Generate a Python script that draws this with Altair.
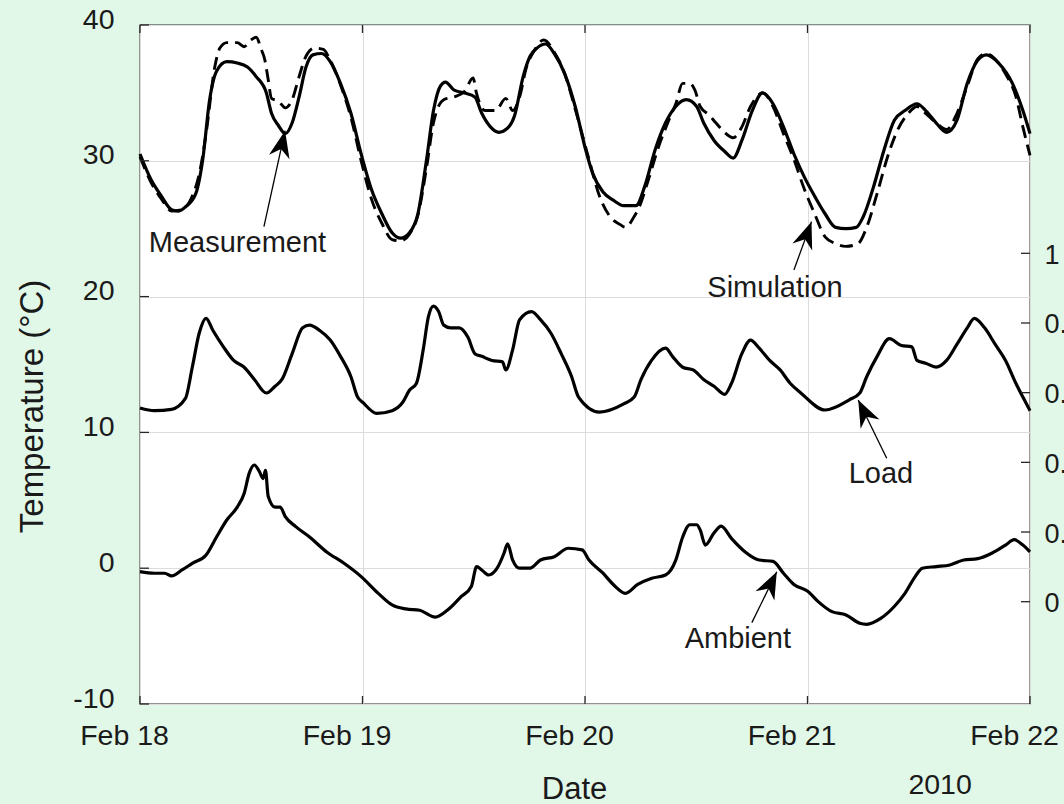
import math

import altair as alt
import pandas as pd

# ---------------------------------------------------------------------------
# Transformer temperatures, 18-22 Feb 2010.
# Time is given in days counted from Feb 18 00:00, temperatures in degC.
# ---------------------------------------------------------------------------
MEAS_T = [0.000, 0.050, 0.096, 0.142, 0.173, 0.204, 0.251, 0.282, 0.313, 0.344,
          0.390, 0.437, 0.483, 0.522, 0.568, 0.591, 0.622, 0.653, 0.684, 0.715,
          0.746, 0.777, 0.816, 0.855, 0.901, 0.948, 0.994, 1.040, 1.087, 1.133,
          1.172, 1.211, 1.249, 1.288, 1.319, 1.350, 1.373, 1.412, 1.458, 1.505,
          1.536, 1.575, 1.613, 1.652, 1.683, 1.722, 1.753, 1.784, 1.823, 1.862,
          1.909, 1.956, 2.003, 2.034, 2.081, 2.127, 2.174, 2.229, 2.268, 2.315,
          2.362, 2.408, 2.455, 2.502, 2.533, 2.580, 2.627, 2.666, 2.705, 2.752,
          2.798, 2.845, 2.892, 2.939, 2.986, 3.032, 3.079, 3.126, 3.173, 3.219,
          3.251, 3.297, 3.344, 3.391, 3.438, 3.492, 3.531, 3.578, 3.625, 3.672,
          3.718, 3.765, 3.804, 3.859, 3.921, 3.968, 4.000]
MEAS_V = [30.5, 28.6, 27.4, 26.4, 26.3, 26.6, 27.6, 30.1, 34.5, 36.6,
          37.3, 37.2, 36.9, 36.2, 35.0, 33.5, 32.6, 32.0, 32.8, 34.7,
          36.9, 37.8, 37.9, 37.3, 35.7, 33.5, 30.5, 27.9, 26.1, 24.7,
          24.3, 24.7, 26.1, 30.1, 33.7, 35.5, 35.8, 35.2, 35.0, 34.7,
          33.5, 32.5, 32.1, 32.4, 33.3, 36.2, 37.7, 38.3, 38.6, 37.9,
          36.4, 34.0, 30.8, 29.1, 27.7, 27.1, 26.7, 26.7, 28.1, 30.8,
          32.8, 34.0, 34.5, 34.0, 32.8, 31.5, 30.7, 30.2, 31.5, 33.7,
          35.0, 34.2, 32.5, 30.5, 28.8, 27.4, 26.1, 25.1, 25.0, 25.1,
          25.9, 28.1, 30.8, 33.0, 33.7, 34.2, 33.7, 32.8, 32.1, 33.0,
          35.7, 37.4, 37.8, 37.2, 35.7, 33.7, 32.0]

SIM_T = [0.000, 0.050, 0.096, 0.142, 0.189, 0.235, 0.266, 0.297, 0.336, 0.359,
         0.390, 0.437, 0.468, 0.499, 0.522, 0.545, 0.560, 0.576, 0.591, 0.622,
         0.653, 0.684, 0.715, 0.746, 0.785, 0.824, 0.855, 0.901, 0.948, 0.994,
         1.040, 1.087, 1.133, 1.172, 1.211, 1.249, 1.288, 1.319, 1.365, 1.412,
         1.458, 1.497, 1.512, 1.551, 1.598, 1.644, 1.675, 1.706, 1.737, 1.768,
         1.815, 1.862, 1.909, 1.956, 2.018, 2.065, 2.112, 2.159, 2.182, 2.221,
         2.244, 2.283, 2.330, 2.377, 2.408, 2.439, 2.471, 2.494, 2.518, 2.556,
         2.588, 2.627, 2.666, 2.705, 2.744, 2.798, 2.845, 2.892, 2.939, 2.986,
         3.032, 3.079, 3.126, 3.173, 3.227, 3.266, 3.313, 3.360, 3.406, 3.453,
         3.492, 3.531, 3.578, 3.625, 3.672, 3.718, 3.765, 3.804, 3.843, 3.890,
         3.937, 3.968, 4.000]
SIM_V = [30.3, 28.4, 27.2, 26.3, 26.4, 27.4, 29.0, 32.0, 36.9, 38.3,
         38.7, 38.7, 38.4, 38.9, 39.1, 38.2, 37.5, 36.0, 34.6, 34.4,
         33.9, 34.5, 36.2, 37.7, 38.3, 38.2, 37.4, 35.6, 33.2, 30.0,
         27.2, 25.4, 24.2, 24.1, 24.6, 26.0, 29.5, 32.8, 34.5, 34.7,
         35.1, 36.1, 35.0, 33.7, 33.7, 34.6, 33.7, 34.7, 36.9, 38.0,
         38.9, 38.0, 36.4, 33.8, 30.1, 27.4, 25.9, 25.3, 25.1, 25.9,
         26.6, 28.5, 31.0, 33.0, 34.2, 35.7, 35.7, 35.2, 34.0, 33.4,
         32.8, 32.1, 31.7, 32.5, 34.0, 35.0, 34.0, 32.0, 30.1, 27.9,
         26.1, 24.4, 23.9, 23.7, 23.9, 25.1, 27.6, 30.3, 32.3, 33.5,
         34.0, 33.5, 32.8, 32.3, 33.5, 35.5, 37.5, 37.9, 37.5, 36.4,
         34.7, 32.5, 30.4]

LOAD_T = [0.000, 0.065, 0.142, 0.204, 0.235, 0.266, 0.297, 0.328, 0.375, 0.421,
          0.468, 0.514, 0.568, 0.607, 0.638, 0.684, 0.731, 0.762, 0.808, 0.855,
          0.901, 0.948, 0.978, 1.002, 1.064, 1.133, 1.180, 1.211, 1.242, 1.273,
          1.296, 1.319, 1.342, 1.365, 1.396, 1.435, 1.474, 1.505, 1.536, 1.582,
          1.629, 1.644, 1.675, 1.706, 1.760, 1.800, 1.847, 1.893, 1.940, 1.971,
          2.065, 2.174, 2.221, 2.252, 2.299, 2.362, 2.393, 2.439, 2.486, 2.533,
          2.580, 2.627, 2.658, 2.705, 2.744, 2.783, 2.830, 2.877, 2.923, 2.970,
          3.079, 3.188, 3.235, 3.266, 3.313, 3.368, 3.422, 3.469, 3.492, 3.531,
          3.578, 3.625, 3.672, 3.718, 3.750, 3.796, 3.843, 3.890, 3.937, 3.968,
          4.000]
LOAD_V = [11.8, 11.6, 11.7, 12.5, 14.8, 17.3, 18.4, 17.5, 16.3, 15.3,
          14.8, 13.9, 12.9, 13.4, 13.9, 15.8, 17.7, 17.9, 17.5, 16.8,
          15.6, 14.1, 12.6, 12.2, 11.4, 11.6, 12.2, 13.1, 13.6, 16.1,
          18.5, 19.3, 18.9, 17.9, 17.7, 17.7, 17.0, 15.8, 15.6, 15.3,
          15.2, 14.6, 16.1, 18.3, 18.9, 18.3, 17.3, 15.8, 14.1, 12.6,
          11.5, 12.1, 12.6, 13.9, 15.3, 16.2, 15.6, 14.8, 14.6, 13.9,
          13.4, 12.8, 13.6, 15.8, 16.8, 16.2, 15.3, 14.6, 13.6, 12.9,
          11.65, 12.4, 12.9, 14.1, 15.6, 16.9, 16.4, 16.3, 15.3, 15.1,
          14.8, 15.3, 16.5, 17.7, 18.4, 17.7, 16.5, 15.3, 13.6, 12.6,
          11.6]

AMB_T = [0.000, 0.065, 0.111, 0.142, 0.189, 0.235, 0.297, 0.344, 0.390, 0.437,
         0.468, 0.491, 0.514, 0.537, 0.553, 0.564, 0.576, 0.607, 0.630, 0.653,
         0.700, 0.762, 0.839, 0.917, 0.994, 1.071, 1.133, 1.195, 1.257, 1.327,
         1.381, 1.443, 1.489, 1.513, 1.536, 1.567, 1.605, 1.636, 1.652, 1.675,
         1.706, 1.753, 1.800, 1.862, 1.925, 1.987, 2.018, 2.081, 2.127, 2.182,
         2.237, 2.300, 2.362, 2.408, 2.439, 2.471, 2.502, 2.518, 2.541, 2.580,
         2.612, 2.658, 2.720, 2.783, 2.845, 2.892, 2.939, 3.001, 3.048, 3.110,
         3.173, 3.235, 3.266, 3.329, 3.391, 3.438, 3.484, 3.516, 3.578, 3.640,
         3.702, 3.765, 3.828, 3.890, 3.929, 3.968, 4.000]
AMB_V = [-0.25, -0.37, -0.37, -0.57, -0.13, 0.36, 0.98, 2.3, 3.55, 4.5,
         5.5, 7.0, 7.6, 7.1, 6.6, 7.2, 5.3, 4.5, 4.5, 3.8,
         3.06, 2.3, 1.2, 0.36, -0.62, -1.85, -2.7, -3.0, -3.1, -3.6,
         -3.1, -2.1, -1.35, 0.12, -0.13, -0.5, 0.0, 1.1, 1.8, 0.6,
         0.0, 0.0, 0.6, 0.85, 1.47, 1.35, 0.6, -0.37, -1.2, -1.85,
         -1.2, -0.74, -0.5, 0.6, 2.3, 3.2, 3.2, 2.8, 1.7, 2.6,
         3.1, 2.2, 1.2, 0.6, 0.5, -0.37, -1.2, -1.7, -2.46, -3.2,
         -3.44, -4.05, -4.13, -3.7, -2.8, -1.85, -0.62, 0.0, 0.12, 0.24,
         0.6, 0.7, 1.1, 1.7, 2.1, 1.7, 1.2]

# Axis ticks and labels
DAY_TICKS = [0, 1, 2, 3, 4]
DAY_LABELS = ["Feb 18", "Feb 19", "Feb 20", "Feb 21", "Feb 22"]
TEMP_TICKS = [-10, 0, 10, 20, 30, 40]
SEC_TICKS = [0, 0.2, 0.4, 0.6, 0.8, 1.0]
SEC_DOMAIN = [-0.2936, 1.6553]
YEAR_LABEL = "2010"
YEAR_POS = (3.596, -16.63)

# Callouts: label text, label anchor, arrow tail and arrow tip (day, degC)
ANNOT_LABELS = ["Measurement", "Simulation", "Load", "Ambient"]
ANNOT_TEXT_T = [0.438, 2.854, 3.330, 2.687]
ANNOT_TEXT_V = [23.28, 19.99, 6.27, -5.88]
ARROW_TAIL_T = [0.557, 2.939, 3.356, 2.750]
ARROW_TAIL_V = [25.15, 21.96, 8.09, -4.01]
ARROW_TIP_T = [0.652, 3.018, 3.228, 2.862]
ARROW_TIP_V = [32.22, 25.52, 12.39, -0.26]

# ---------------------------------------------------------------------------
W, H = 890, 679
PX_PER_DAY = W / (DAY_TICKS[-1] - DAY_TICKS[0])
PX_PER_DEG = H / (TEMP_TICKS[-1] - TEMP_TICKS[0])
FONT = "Liberation Sans"
INK = "#1a1a1a"
AXIS_INK = "#262626"

assert len(MEAS_T) == len(MEAS_V)
assert len(SIM_T) == len(SIM_V)
assert len(LOAD_T) == len(LOAD_V)
assert len(AMB_T) == len(AMB_V)

solid = pd.concat([
    pd.DataFrame({"day": MEAS_T, "temp": MEAS_V, "series": "Measurement"}),
    pd.DataFrame({"day": LOAD_T, "temp": LOAD_V, "series": "Load"}),
    pd.DataFrame({"day": AMB_T, "temp": AMB_V, "series": "Ambient"}),
])
dashed = pd.DataFrame({"day": SIM_T, "temp": SIM_V, "series": "Simulation"})

angles = []
for t0, v0, t1, v1 in zip(ARROW_TAIL_T, ARROW_TAIL_V, ARROW_TIP_T, ARROW_TIP_V):
    dx = (t1 - t0) * PX_PER_DAY
    dy = -(v1 - v0) * PX_PER_DEG
    angles.append(math.degrees(math.atan2(dx, -dy)) % 360)

annot = pd.DataFrame({
    "label": ANNOT_LABELS,
    "day": ANNOT_TEXT_T, "temp": ANNOT_TEXT_V,
})
arrows = pd.DataFrame({
    "day": ARROW_TAIL_T, "temp": ARROW_TAIL_V,
    "day2": ARROW_TIP_T, "temp2": ARROW_TIP_V,
})
heads = pd.DataFrame({"day": ARROW_TIP_T, "temp": ARROW_TIP_V, "angle": angles})

label_expr = "[" + ",".join(f"'{s}'" for s in DAY_LABELS) + "][datum.value]"

x_scale = alt.Scale(domain=[DAY_TICKS[0], DAY_TICKS[-1]], nice=False, zero=False)
y_scale = alt.Scale(domain=[TEMP_TICKS[0], TEMP_TICKS[-1]], nice=False, zero=False)

x_axis = alt.Axis(
    values=DAY_TICKS, labelExpr=label_expr, title="Date",
    grid=True, ticks=False, tickSize=0, domain=False,
    labelFlush=False, labelOverlap=False, labelOffset=-16, labelPadding=17,
    labelFontSize=28.5, titleFontSize=31,
    titleX=434, titleY=94, titleAlign="center", titleBaseline="alphabetic",
)
y_axis = alt.Axis(
    values=TEMP_TICKS, labelExpr="datum.value + ''", title="Temperature (°C)",
    grid=True, ticks=False, tickSize=0, domain=False,
    labelOverlap=False, labelOffset=-6, labelPadding=26,
    labelFontSize=28.5, titleFontSize=33,
    titleX=-98, titleY=381, titleAngle=270,
    titleAlign="center", titleBaseline="alphabetic",
)

X = alt.X("day:Q", scale=x_scale, axis=x_axis)
Y = alt.Y("temp:Q", scale=y_scale, axis=y_axis)

solid_lines = alt.Chart(solid).mark_line(
    color="black", strokeWidth=3.2, interpolate="monotone", strokeJoin="round"
).encode(x=X, y=Y, detail="series:N")

dashed_line = alt.Chart(dashed).mark_line(
    color="black", strokeWidth=2.9, interpolate="monotone", strokeDash=[13, 7]
).encode(x=X, y=Y)

tick_style = dict(color=AXIS_INK, strokeWidth=1.3)
left_ticks = alt.Chart(pd.DataFrame({"temp": TEMP_TICKS})).mark_rule(**tick_style).encode(
    y=Y, x=alt.value(0), x2=alt.value(9))
bottom_ticks = alt.Chart(pd.DataFrame({"day": DAY_TICKS})).mark_rule(**tick_style).encode(
    x=X, y=alt.value(H), y2=alt.value(H - 8))
top_ticks = alt.Chart(pd.DataFrame({"day": DAY_TICKS})).mark_rule(**tick_style).encode(
    x=X, y=alt.value(0), y2=alt.value(8))

arrow_lines = alt.Chart(arrows).mark_rule(color="black", strokeWidth=1.3).encode(
    x=X, y=Y, x2="day2:Q", y2="temp2:Q")

# notched arrowhead, tip at the origin, pointing up before rotation
ARROW_HEAD = "M0,0L0.7,1.8L0,1.25L-0.7,1.8Z"
arrow_heads = alt.Chart(heads).mark_point(
    shape=ARROW_HEAD, filled=True, size=900, color="black", opacity=1, strokeWidth=0
).encode(x=X, y=Y, angle=alt.Angle("angle:Q", scale=None))

annot_text = alt.Chart(annot).mark_text(
    font=FONT, fontSize=29, color=INK, align="center", baseline="alphabetic"
).encode(x=X, y=Y, text="label:N")

year_text = alt.Chart(pd.DataFrame({"day": [YEAR_POS[0]], "temp": [YEAR_POS[1]],
                                    "label": [YEAR_LABEL]})).mark_text(
    font=FONT, fontSize=28.5, color=INK, align="center", baseline="alphabetic"
).encode(x=X, y=Y, text="label:N")

main = alt.layer(solid_lines, dashed_line, left_ticks, bottom_ticks, top_ticks,
                 arrow_lines, arrow_heads, annot_text, year_text)

# secondary scale on the right-hand side (0 ... 1)
sec = alt.Chart(pd.DataFrame({"s": SEC_TICKS})).mark_rule(**tick_style).encode(
    y=alt.Y("s:Q",
            scale=alt.Scale(domain=SEC_DOMAIN, nice=False, zero=False),
            axis=alt.Axis(orient="right", values=SEC_TICKS, format="~g",
                          ticks=False, tickSize=0, domain=False, grid=False,
                          labelPadding=14, labelFontSize=27, labelOffset=2,
                          labelOverlap=False, title=None)),
    x=alt.value(W - 9), x2=alt.value(W),
)

chart = (
    alt.layer(main, sec)
    .resolve_scale(y="independent")
    .properties(
        width=W, height=H,
        background="#e1f7e7",
        padding={"left": 140, "top": 25, "right": 34, "bottom": 100},
        autosize=alt.AutoSizeParams(type="none"),
    )
    .configure_view(fill="white", stroke=AXIS_INK, strokeWidth=1.3)
    .configure_axis(
        labelFont=FONT, titleFont=FONT, labelColor=INK, titleColor=INK,
        titleFontWeight="normal", gridColor="#dcdcdc", gridWidth=1,
    )
)

chart.save("out.html", embed_options={"renderer": "svg", "actions": False})
